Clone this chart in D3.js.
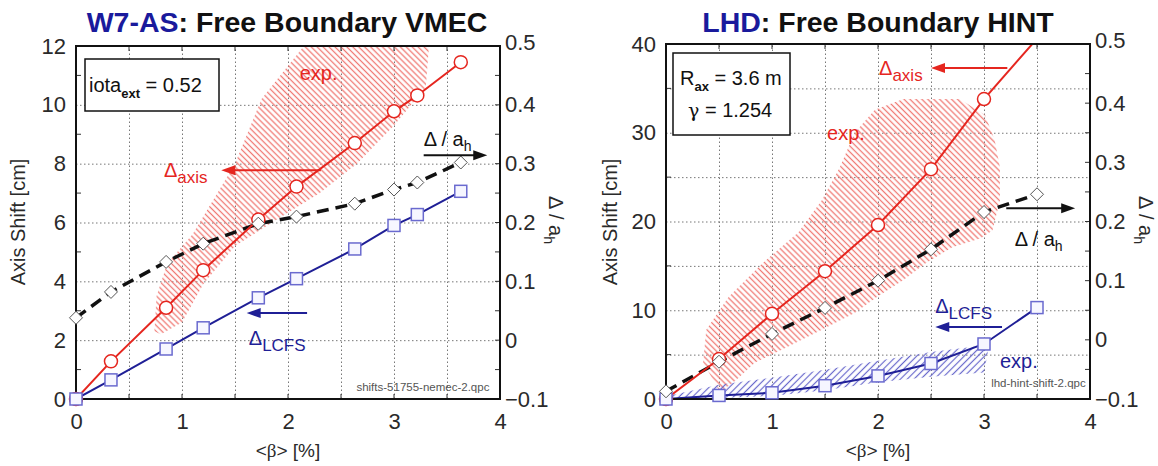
<!DOCTYPE html>
<html>
<head>
<meta charset="utf-8">
<script src="https://cdn.jsdelivr.net/npm/d3@7"></script>
<style>
  html, body { margin: 0; padding: 0; background: #fff; }
  svg { display: block; font-family: "Liberation Sans", Arial, sans-serif; }
</style>
</head>
<body>
<svg id="chart" width="1158" height="466"></svg>
<script>
// ---------- W7-AS, free-boundary VMEC ----------
const w7Beta        = [0, 0.33, 0.85, 1.2, 1.72, 2.08, 2.63, 3.0, 3.22, 3.63];
const w7AxisShift   = [0, 1.28, 3.1, 4.38, 6.1, 7.22, 8.7, 9.78, 10.32, 11.45];
const w7LcfsShift   = [0, 0.65, 1.7, 2.42, 3.44, 4.09, 5.1, 5.9, 6.27, 7.06];
const w7DeltaOverA  = [0.038, 0.082, 0.133, 0.164, 0.198, 0.21, 0.232, 0.256, 0.268, 0.302];
// measured axis-shift band [beta, shift]
const w7AxisExpBand = [
  [0.74, 2.3], [0.76, 3.5], [0.86, 4.6], [1.1, 5.6], [1.3, 6.8], [1.5, 8.0], [1.75, 10.2], [2.15, 12],
  [3.33, 12], [3.3, 10.6], [3.0, 9.3], [2.65, 8.0], [2.3, 7.0], [1.85, 6.0], [1.5, 5.2], [1.2, 3.9],
  [1.0, 2.6], [0.8, 2.2]
];

// ---------- LHD, free-boundary HINT ----------
const lhdBeta       = [0, 0.5, 1.0, 1.5, 2.0, 2.5, 3.0, 3.5];
const lhdAxisShift  = [0, 4.5, 9.6, 14.4, 19.6, 25.9, 33.8, 40.6];
const lhdLcfsShift  = [0, 0.4, 0.7, 1.5, 2.6, 4.0, 6.2, 10.3];
const lhdDeltaOverA = [-0.087, -0.037, 0.01, 0.054, 0.1, 0.153, 0.216, 0.246];
const lhdAxisExpBand = [
  [0.51, 0.8], [0.35, 4.1], [0.38, 7.8], [0.59, 11.5], [0.91, 15.3], [1.25, 18.8], [1.47, 22.4],
  [1.64, 26.1], [1.78, 30.0], [1.97, 32.6], [2.24, 33.8], [2.77, 33.8], [3.01, 32.0], [3.1, 29.2],
  [3.15, 26.1], [3.15, 22.4], [3.08, 19.0], [2.97, 18.1], [2.7, 17.1], [2.45, 15.3], [2.24, 13.4],
  [1.99, 11.5], [1.78, 9.7], [1.47, 7.8], [1.15, 5.9], [0.84, 4.1], [0.66, 2.1]
];
const lhdLcfsExpBand = [
  [0, 0.3], [0.5, 1.6], [1.0, 2.4], [1.5, 3.3], [2.0, 4.3], [2.5, 5.3], [3.05, 6.1],
  [3.0, 3.0], [2.5, 2.5], [2.0, 1.9], [1.5, 1.0], [1.0, 0.35], [0.5, 0.1], [0, 0]
];

// ---------- ticks ----------
const betaTicks     = [0, 1, 2, 3, 4];
const betaGrid      = [0.5, 1, 1.5, 2, 2.5, 3, 3.5];
const w7ShiftTicks  = [0, 2, 4, 6, 8, 10, 12];
const w7ShiftMinor  = [1, 3, 5, 7, 9, 11];
const lhdShiftTicks = [0, 10, 20, 30, 40];
const lhdShiftGrid  = [5, 10, 15, 20, 25, 30, 35];
const ratioTicks    = [-0.1, 0, 0.1, 0.2, 0.3, 0.4, 0.5];
const ratioMinor    = [-0.05, 0.05, 0.15, 0.25, 0.35, 0.45];

const RED = "#e5261f", BLUE = "#1f1f96", NAVY = "#1a1a9c";

const svg = d3.select("#chart");
const defs = svg.append("defs");

function hatch(id, color, angle, gap, width) {
  const p = defs.append("pattern")
    .attr("id", id).attr("patternUnits", "userSpaceOnUse")
    .attr("width", gap).attr("height", gap)
    .attr("patternTransform", `rotate(${angle})`);
  p.append("line").attr("x1", gap / 2).attr("x2", gap / 2).attr("y1", 0).attr("y2", gap)
    .attr("stroke", color).attr("stroke-width", width);
}
hatch("hatchRed", "#f07a74", -45, 4.2, 1.3);
hatch("hatchBlue", "#6868cc", 45, 4.8, 1.2);

function drawPanel(cfg) {
  const { x0, x1, y0, y1 } = cfg.frame;
  const x = d3.scaleLinear().domain([0, 4]).range([x0, x1]);
  const y = d3.scaleLinear().domain([0, cfg.shiftMax]).range([y1, y0]);
  const yr = d3.scaleLinear().domain([-0.1, 0.5]).range([y1, y0]);
  const g = svg.append("g");

  const clipId = cfg.id + "Clip";
  defs.append("clipPath").attr("id", clipId)
    .append("rect").attr("x", x0).attr("y", y0).attr("width", x1 - x0).attr("height", y1 - y0);

  // dotted grid
  const grid = g.append("g").attr("class", "grid");
  grid.append("g").attr("transform", `translate(0,${y1})`)
    .call(d3.axisBottom(x).tickValues(betaGrid).tickSize(-(y1 - y0)).tickFormat(""));
  grid.append("g").attr("transform", `translate(${x0},0)`)
    .call(d3.axisLeft(y).tickValues(cfg.shiftGrid).tickSize(-(x1 - x0)).tickFormat(""));
  grid.selectAll(".domain").remove();
  grid.selectAll("line").attr("stroke", "#777").attr("stroke-width", 1).attr("stroke-dasharray", "1.5,2.5");

  const plot = g.append("g").attr("clip-path", `url(#${clipId})`);

  // measured bands
  const band = d3.line().x(d => x(d[0])).y(d => y(d[1]));
  cfg.bands.forEach(b => {
    plot.append("path").attr("d", band(b.pts) + "Z").attr("fill", `url(#${b.pattern})`).attr("stroke", "none");
  });

  // computed curves
  const lineShift = d3.line().x((d, i) => x(cfg.beta[i])).y(d => y(d));
  const lineRatio = d3.line().x((d, i) => x(cfg.beta[i])).y(d => yr(d));

  plot.append("path").attr("d", lineRatio(cfg.ratio)).attr("fill", "none")
    .attr("stroke", "#111").attr("stroke-width", 3.5).attr("stroke-dasharray", "12,7");
  plot.append("path").attr("d", lineShift(cfg.lcfs)).attr("fill", "none")
    .attr("stroke", BLUE).attr("stroke-width", 2);
  plot.append("path").attr("d", lineShift(cfg.axis)).attr("fill", "none")
    .attr("stroke", RED).attr("stroke-width", 2);

  // frame and small inner ticks
  const ticks = g.append("g");
  cfg.shiftMinor.forEach(v => ticks.append("line").attr("x1", x0).attr("x2", x0 + 5).attr("y1", y(v)).attr("y2", y(v)));
  ratioMinor.concat(ratioTicks).forEach(v => ticks.append("line").attr("x1", x1 - 5).attr("x2", x1).attr("y1", yr(v)).attr("y2", yr(v)));
  betaGrid.forEach(v => {
    ticks.append("line").attr("x1", x(v)).attr("x2", x(v)).attr("y1", y0).attr("y2", y0 + 5);
    ticks.append("line").attr("x1", x(v)).attr("x2", x(v)).attr("y1", y1 - 5).attr("y2", y1);
  });
  ticks.selectAll("line").attr("stroke", "#333").attr("stroke-width", 1);
  g.append("rect").attr("x", x0).attr("y", y0).attr("width", x1 - x0).attr("height", y1 - y0)
    .attr("fill", "none").attr("stroke", "#111").attr("stroke-width", 2);

  // markers (only those inside the axis range), drawn over the frame
  const inRange = (arr, max) => arr.map((v, i) => ({ b: cfg.beta[i], v })).filter(d => d.v <= max);
  const marks = g.append("g");
  marks.selectAll(null).data(inRange(cfg.axis, cfg.shiftMax)).enter().append("circle")
    .attr("cx", d => x(d.b)).attr("cy", d => y(d.v)).attr("r", 6.5)
    .attr("fill", "#fff").attr("stroke", RED).attr("stroke-width", 1.5);
  marks.selectAll(null).data(inRange(cfg.lcfs, cfg.shiftMax)).enter().append("rect")
    .attr("x", d => x(d.b) - 6).attr("y", d => y(d.v) - 6)
    .attr("width", 12).attr("height", 12)
    .attr("fill", "#f6f6ff").attr("stroke", "#6a6acf").attr("stroke-width", 1.5);
  marks.selectAll(null).data(inRange(cfg.ratio, 0.5)).enter().append("path")
    .attr("transform", d => `translate(${x(d.b)},${yr(d.v)})`)
    .attr("d", "M0,-6.5L6.5,0L0,6.5L-6.5,0Z")
    .attr("fill", "#fff").attr("stroke", "#555").attr("stroke-width", 1);

  // tick labels via axes
  const fmtRatio = d => (d === 0 ? "0" : d3.format(".1f")(d));
  const axB = g.append("g").attr("transform", `translate(0,${y1})`)
    .call(d3.axisBottom(x).tickValues(betaTicks).tickSize(0).tickPadding(14).tickFormat(d3.format("d")));
  const axL = g.append("g").attr("transform", `translate(${x0},0)`)
    .call(d3.axisLeft(y).tickValues(cfg.shiftTicks).tickSize(0).tickPadding(10).tickFormat(d3.format("d")));
  const axR = g.append("g").attr("transform", `translate(${x1},0)`)
    .call(d3.axisRight(yr).tickValues(ratioTicks).tickSize(0).tickPadding(5).tickFormat(fmtRatio));
  [axB, axL, axR].forEach(a => {
    a.select(".domain").remove();
    a.selectAll("text").attr("font-size", 22).attr("fill", "#2a2a2a")
      .attr("font-family", "'Liberation Sans', Arial, sans-serif");
  });
  axR.selectAll("text").filter(d => d === 0.5).attr("dy", "0.15em");

  // axis titles
  g.append("text").attr("transform", `translate(${cfg.leftTitleX},222) rotate(-90)`)
    .attr("text-anchor", "middle").attr("font-size", 20).attr("fill", "#2a2a2a").text("Axis Shift [cm]");
  const rt = g.append("text").attr("transform", `translate(${x1 + 49},220) rotate(90)`)
    .attr("text-anchor", "middle").attr("font-size", 20).attr("fill", "#2a2a2a");
  rt.append("tspan").text("\u0394 / a");
  rt.append("tspan").attr("font-size", 14).attr("dy", 5).text("h");
  const bt = g.append("text").attr("x", (x0 + x1) / 2).attr("y", 457)
    .attr("text-anchor", "middle").attr("font-size", 19).attr("fill", "#2a2a2a");
  bt.append("tspan").text("<");
  bt.append("tspan").attr("font-family", "'Liberation Serif', 'DejaVu Serif', serif").text("\u03b2");
  bt.append("tspan").text("> [%]");

  // title
  const t = g.append("text").attr("x", cfg.titleX).attr("y", 32).attr("text-anchor", "middle")
    .attr("font-size", 28.5).attr("font-weight", "bold").attr("fill", "#111");
  t.append("tspan").attr("fill", NAVY).text(cfg.device);
  t.append("tspan").text(": " + cfg.code);

  // parameter box
  g.append("rect").attr("x", x0 + cfg.box.dx).attr("y", y0 + cfg.box.dy)
    .attr("width", cfg.box.w).attr("height", cfg.box.h)
    .attr("fill", "#fff").attr("stroke", "#111").attr("stroke-width", 1.5);
  cfg.box.lines.forEach(l => {
    const tx = g.append("text").attr("x", x0 + l.dx).attr("y", y0 + l.dy)
      .attr("font-size", 20).attr("fill", "#111");
    l.parts.forEach(p => {
      const s = tx.append("tspan").text(p.t);
      if (p.sub) s.attr("font-size", 13).attr("font-weight", "bold").attr("dy", 6);
      if (p.back) s.attr("dy", -6);
      if (p.serif) s.attr("font-family", "'DejaVu Serif', 'Liberation Serif', serif").attr("font-size", 19);
    });
  });

  // arrows and labels
  function arrow(bFrom, bTo, s, color) {
    const xa = x(bFrom), xb = x(bTo), yy = y(s);
    const dir = Math.sign(xb - xa);
    g.append("line").attr("x1", xa).attr("x2", xb - dir * 10).attr("y1", yy).attr("y2", yy)
      .attr("stroke", color).attr("stroke-width", 2);
    g.append("path").attr("d", `M${xb},${yy}L${xb - dir * 14},${yy - 5}L${xb - dir * 14},${yy + 5}Z`).attr("fill", color);
  }
  function deltaLabel(b, s, color, sub, slash) {
    const tx = g.append("text").attr("x", x(b)).attr("y", y(s)).attr("font-size", 20).attr("fill", color);
    tx.append("tspan").text(slash ? "\u0394 / a" : "\u0394");
    tx.append("tspan").attr("font-size", slash ? 14 : 17).attr("dy", slash ? 5 : 6).text(sub);
  }
  cfg.notes.forEach(n => {
    if (n.kind === "arrow") arrow(n.from, n.to, n.s, n.color);
    else if (n.kind === "delta") deltaLabel(n.b, n.s, n.color, n.sub, n.slash);
    else if (n.kind === "text") g.append("text").attr("x", x(n.b)).attr("y", y(n.s))
      .attr("font-size", n.size).attr("fill", n.color).attr("text-anchor", n.anchor || "start").text(n.text);
  });
}

drawPanel({
  id: "w7", device: "W7-AS", code: "Free Boundary VMEC", titleX: 287,
  frame: { x0: 76, x1: 500, y0: 46, y1: 399 }, leftTitleX: 25,
  shiftMax: 12, shiftTicks: w7ShiftTicks, shiftGrid: w7ShiftTicks.slice(1, -1), shiftMinor: w7ShiftMinor,
  beta: w7Beta, axis: w7AxisShift, lcfs: w7LcfsShift, ratio: w7DeltaOverA,
  bands: [{ pts: w7AxisExpBand, pattern: "hatchRed" }],
  box: { dx: 9, dy: 13, w: 134, h: 52,
    lines: [{ dx: 13, dy: 46, parts: [{ t: "iota" }, { t: "ext", sub: true }, { t: " = 0.52", back: true }] }] },
  notes: [
    { kind: "text", b: 2.11, s: 10.84, text: "exp.", color: RED, size: 20 },
    { kind: "arrow", from: 2.31, to: 1.37, s: 7.78, color: RED },
    { kind: "delta", b: 0.83, s: 7.55, color: RED, sub: "axis" },
    { kind: "delta", b: 3.28, s: 8.6, color: "#111", sub: "h", slash: true },
    { kind: "arrow", from: 3.28, to: 3.88, s: 8.29, color: "#111" },
    { kind: "arrow", from: 2.18, to: 1.61, s: 2.92, color: BLUE },
    { kind: "delta", b: 1.63, s: 1.84, color: BLUE, sub: "LCFS" },
    { kind: "text", b: 3.9, s: 0.26, text: "shifts-51755-nemec-2.qpc", color: "#555", size: 11.5, anchor: "end" }
  ]
});

drawPanel({
  id: "lhd", device: "LHD", code: "Free Boundary HINT", titleX: 878,
  frame: { x0: 666, x1: 1090, y0: 44, y1: 399 }, leftTitleX: 617,
  shiftMax: 40, shiftTicks: lhdShiftTicks, shiftGrid: lhdShiftGrid, shiftMinor: [5, 15, 25, 35],
  beta: lhdBeta, axis: lhdAxisShift, lcfs: lhdLcfsShift, ratio: lhdDeltaOverA,
  bands: [{ pts: lhdAxisExpBand, pattern: "hatchRed" }, { pts: lhdLcfsExpBand, pattern: "hatchBlue" }],
  box: { dx: 7, dy: 9, w: 117, h: 82,
    lines: [
      { dx: 14, dy: 41, parts: [{ t: "R" }, { t: "ax", sub: true }, { t: " = 3.6 m", back: true }] },
      { dx: 22, dy: 73, parts: [{ t: "\u03b3", serif: true }, { t: " = 1.254" }] }
    ] },
  notes: [
    { kind: "arrow", from: 3.22, to: 2.5, s: 37.3, color: RED },
    { kind: "delta", b: 2.01, s: 36.5, color: RED, sub: "axis" },
    { kind: "text", b: 1.52, s: 29.2, text: "exp.", color: RED, size: 20 },
    { kind: "arrow", from: 3.21, to: 3.86, s: 21.5, color: "#111" },
    { kind: "delta", b: 3.29, s: 17.2, color: "#111", sub: "h", slash: true },
    { kind: "delta", b: 2.54, s: 9.7, color: BLUE, sub: "LCFS" },
    { kind: "arrow", from: 3.17, to: 2.54, s: 8.1, color: BLUE },
    { kind: "text", b: 3.15, s: 3.5, text: "exp.", color: BLUE, size: 20 },
    { kind: "text", b: 3.96, s: 1.3, text: "lhd-hint-shift-2.qpc", color: "#555", size: 11.5, anchor: "end" }
  ]
});
</script>
</body>
</html>
